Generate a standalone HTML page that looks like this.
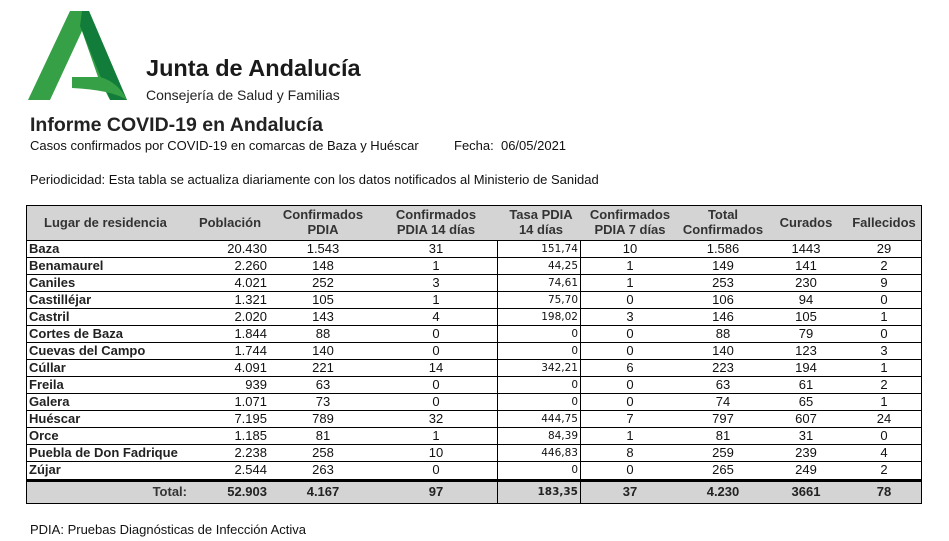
<!DOCTYPE html>
<html><head><meta charset="utf-8">
<style>
body{margin:0;width:949px;height:541px;background:#fff;position:relative;overflow:hidden;font-family:"Liberation Sans",Arial,sans-serif;color:#111}
.a{position:absolute;white-space:nowrap}
.c{position:absolute;font-size:13px;line-height:17px;height:17px}
.h{position:absolute;font-size:13px;line-height:15px;font-weight:bold;color:#333;text-align:center}
</style></head><body>
<svg class="a" style="left:0;top:0" width="140" height="110">
<polygon points="28,100 70,11 89,11 127,100" fill="#36a046"/>
<polygon points="82,11 89,11 127,100 110,100 80,26" fill="#127c3a"/>
<polygon points="82,31 50,100 110,100 98,77" fill="#fff"/>
<path d="M72,77 L100,77 Q118,82 127,100 Q112,90 72,88 Z" fill="#36a046"/>
</svg>
<div class="a" style="left:146px;top:55px;font-size:23.5px;font-weight:bold;color:#1a1a1a">Junta de Andalucía</div>
<div class="a" style="left:146px;top:87px;font-size:14px;color:#222">Consejería de Salud y Familias</div>
<div class="a" style="left:30px;top:114px;font-size:19.5px;font-weight:bold;color:#222">Informe COVID-19 en Andalucía</div>
<div class="a" style="left:30px;top:138px;font-size:13px">Casos confirmados por COVID-19 en comarcas de Baza y Huéscar</div>
<div class="a" style="left:454px;top:138px;font-size:13px">Fecha:&nbsp; 06/05/2021</div>
<div class="a" style="left:30px;top:172px;font-size:13px">Periodicidad: Esta tabla se actualiza diariamente con los datos notificados al Ministerio de Sanidad</div>
<div class="a" style="left:30px;top:522px;font-size:13px">PDIA: Pruebas Diagnósticas de Infección Activa</div>
<div id="tbl" class="a" style="left:26px;top:205px;width:896px;height:299px;border:1px solid #000;box-sizing:border-box"></div>
<script>
const names=["Baza","Benamaurel","Caniles","Castilléjar","Castril","Cortes de Baza","Cuevas del Campo","Cúllar","Freila","Galera","Huéscar","Orce","Puebla de Don Fadrique","Zújar"];
const poblacion=["20.430","2.260","4.021","1.321","2.020","1.844","1.744","4.091","939","1.071","7.195","1.185","2.238","2.544"];
const confPdia=["1.543","148","252","105","143","88","140","221","63","73","789","81","258","263"];
const conf14=["31","1","3","1","4","0","0","14","0","0","32","1","10","0"];
const tasa14=["151,74","44,25","74,61","75,70","198,02","0","0","342,21","0","0","444,75","84,39","446,83","0"];
const conf7=["10","1","1","0","3","0","0","6","0","0","7","1","8","0"];
const totalConf=["1.586","149","253","106","146","88","140","223","63","74","797","81","259","265"];
const curados=["1443","141","230","94","105","79","123","194","61","65","607","31","239","249"];
const fallecidos=["29","2","9","0","1","0","3","1","2","1","24","0","4","2"];
const totals=["52.903","4.167","97","183,35","37","4.230","3661","78"];
const headers=["Lugar de residencia","Población","Confirmados<br>PDIA","Confirmados<br>PDIA 14 días","Tasa PDIA<br>14 días","Confirmados<br>PDIA 7 días","Total<br>Confirmados","Curados","Fallecidos"];
const T=document.getElementById('tbl');
function add(html,style,cls,name){const d=document.createElement('div');d.className=cls;d.innerHTML=html;d.style.cssText=style;


T.appendChild(d);return d;}
add('','left:0;top:0;width:894px;height:34px;background:#d4d4d4;border-bottom:1px solid #000','a','header-row');
add('','left:0;top:273px;width:894px;height:24px;background:#d4d4d4;border-top:3px solid #000;box-sizing:border-box','a','total-row');
const hc=[77,203,296,409,514,603,696,779,857];
headers.forEach((h,i)=>{const one=h.indexOf('<br>')<0;
add(h,`left:${hc[i]-60}px;width:120px;top:${one?9:1}px`,'h','header-'+i);});
for(let r=1;r<14;r++){add('',`left:0;top:${34+r*17}px;width:894px;height:0;border-top:1px solid #000`,'a','row-line');}
add('','left:470px;top:34px;width:84px;height:263px;border-left:1px solid #000;border-right:1px solid #000;box-sizing:border-box','a','tasa-column-borders');
const TS="font-family:'DejaVu Sans',sans-serif;font-size:10.5px;line-height:13px;height:13px;padding-top:3px";
names.forEach((n,r)=>{const y=34+r*17;
add(n,`left:2px;top:${y}px;font-weight:bold;color:#222`,'c','row-name');
add(poblacion[r],`left:160px;width:80px;text-align:right;top:${y}px`,'c','poblacion-cell');
add(confPdia[r],`left:256px;width:80px;text-align:center;top:${y}px`,'c','conf-pdia-cell');
add(conf14[r],`left:369px;width:80px;text-align:center;top:${y}px`,'c','conf14-cell');
add(tasa14[r],`left:470px;width:81px;text-align:right;top:${y}px;${TS}`,'c','tasa14-cell');
add(conf7[r],`left:563px;width:80px;text-align:center;top:${y}px`,'c','conf7-cell');
add(totalConf[r],`left:656px;width:80px;text-align:center;top:${y}px`,'c','total-conf-cell');
add(curados[r],`left:739px;width:80px;text-align:center;top:${y}px`,'c','curados-cell');
add(fallecidos[r],`left:817px;width:80px;text-align:center;top:${y}px`,'c','fallecidos-cell');
});
const ty=277;
add('Total:',`left:60px;width:100px;text-align:right;top:${ty}px;font-weight:bold;color:#333`,'c','total-label');
const tx=[[160,'right'],[256,'center'],[369,'center'],[470,'right'],[563,'center'],[656,'center'],[739,'center'],[817,'center']];
totals.forEach((v,i)=>{add(v,`left:${tx[i][0]}px;width:${i==3?81:80}px;text-align:${tx[i][1]};top:${ty}px;font-weight:bold;color:#222${i==3?";"+TS:''}`,'c','total-cell');});
</script>
</body></html>
